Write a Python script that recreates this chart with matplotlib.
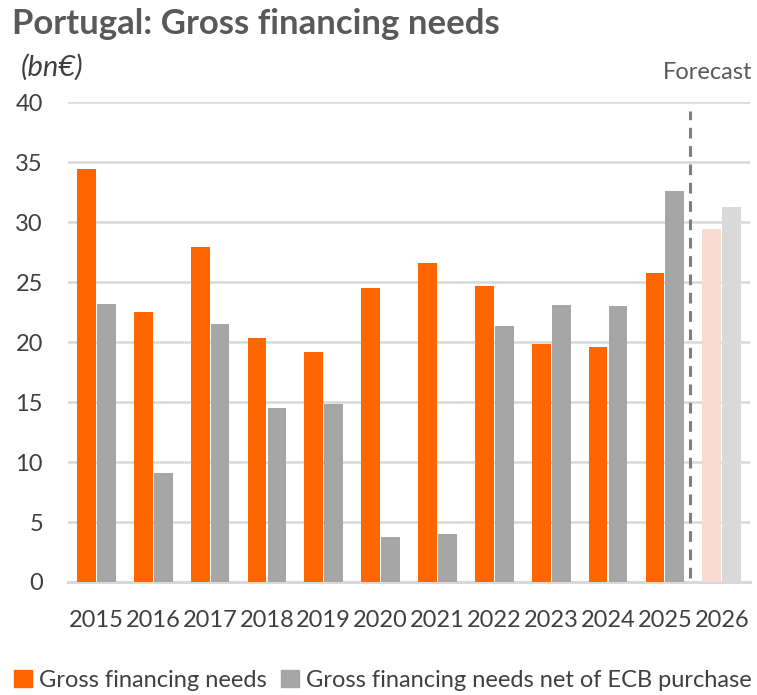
import numpy as np
import matplotlib
matplotlib.use("Agg")
import matplotlib.pyplot as plt
from matplotlib.patches import Patch

# data (bn EUR)
years = ["2015", "2016", "2017", "2018", "2019", "2020",
         "2021", "2022", "2023", "2024", "2025", "2026"]
gross_needs = [34.4, 22.5, 27.9, 20.3, 19.2, 24.5, 26.6, 24.7, 19.8, 19.6, 25.8, 29.4]
net_of_ecb = [23.2, 9.1, 21.5, 14.5, 14.85, 3.75, 4.0, 21.3, 23.1, 23.0, 32.6, 31.25]
yticks = [0, 5, 10, 15, 20, 25, 30, 35, 40]

ORANGE = "#FF6600"
GRAY = "#A6A6A6"
ORANGE_FC = "#F8DBD2"
GRAY_FC = "#D9D9D9"
TEXT = "#404040"
TITLE = "#595959"

plt.rcParams["font.family"] = ["Lato", "DejaVu Sans"]

fig = plt.figure(figsize=(7.57, 6.95), dpi=100)
ax = fig.add_axes([0.0898, 0.1626, 0.9012, 0.6904])

x = np.arange(len(years))
n_hist = len(years) - 1  # last year is forecast
c_gross = [ORANGE] * n_hist + [ORANGE_FC]
c_net = [GRAY] * n_hist + [GRAY_FC]

w = 0.33
ax.bar(x - 0.175, gross_needs, width=w, color=c_gross, zorder=3)
ax.bar(x + 0.175, net_of_ecb, width=w, color=c_net, zorder=3)

# forecast separator
ax.plot([n_hist - 0.55, n_hist - 0.55], [0.3, 39.3], color="#7F7F7F",
        lw=2.2, ls=(0, (3.5, 2.5)), zorder=4)
fig.text(0.994, 0.896, "Forecast", ha="right", va="center",
         fontsize=17, color=TITLE)

ax.set_xlim(-0.5, len(years) - 0.5)
ax.set_ylim(0, 40)
ax.set_yticks(yticks)
ax.set_xticks(x)
ax.set_xticklabels(years)
ax.grid(axis="y", color="#D9D9D9", lw=1.8, zorder=0)
ax.set_axisbelow(True)
for s in ax.spines.values():
    s.set_visible(False)
ax.tick_params(axis="both", length=0, labelsize=17, labelcolor=TEXT)
ax.tick_params(axis="x", pad=20)
ax.tick_params(axis="y", pad=18)
ax.axhline(0, color="#D9D9D9", lw=2.2, zorder=2, clip_on=False)

fig.text(0.016, 0.966, "Portugal: Gross financing needs", fontsize=25,
         fontweight="bold", color=TITLE, ha="left", va="center")
fig.text(0.028, 0.903, "(bn€)", fontsize=21, style="italic",
         color=TEXT, ha="left", va="center")

handles = [Patch(color=ORANGE), Patch(color=GRAY)]
fig.legend(handles, ["Gross financing needs", "Gross financing needs net of ECB purchase"],
           loc="lower left", bbox_to_anchor=(0.0, -0.014), ncol=2, frameon=False,
           fontsize=17, labelcolor=TEXT, handlelength=0.75, handleheight=0.75,
           handletextpad=0.3, columnspacing=0.6, borderaxespad=0.2)

fig.savefig("out.png", dpi=100)
